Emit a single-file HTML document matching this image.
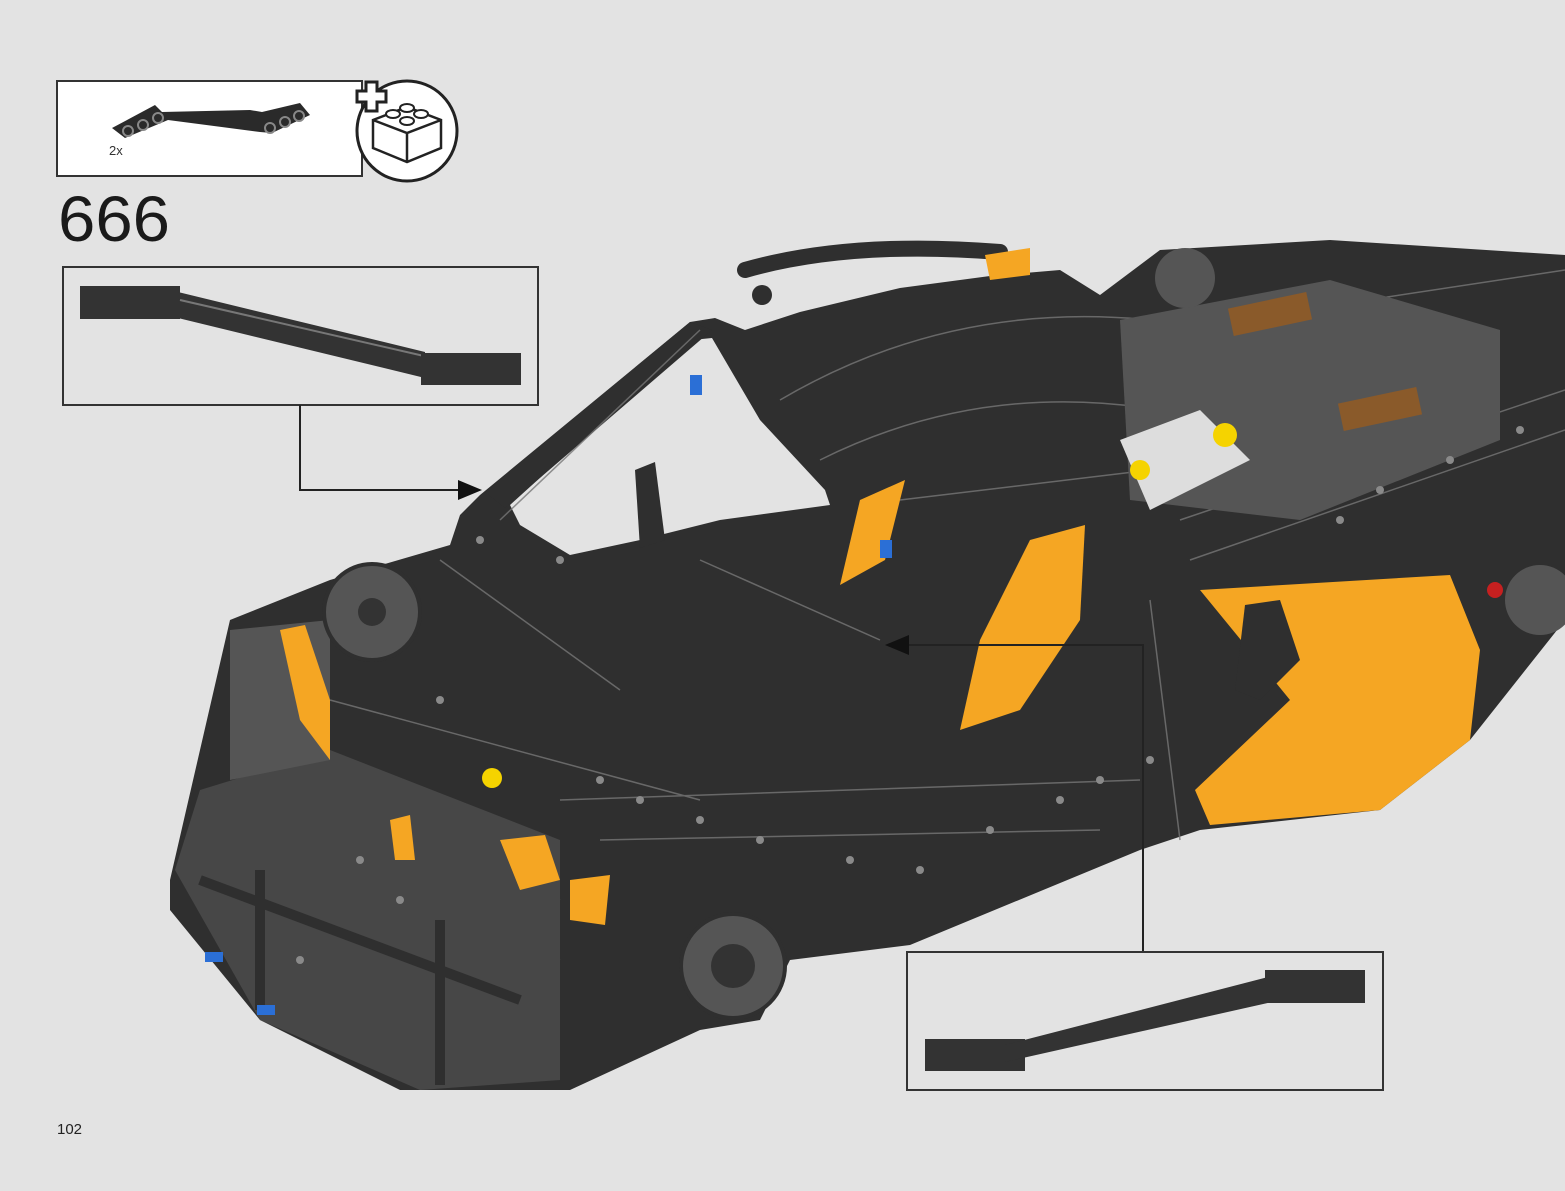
<!DOCTYPE html>
<html><head><meta charset="utf-8"><style>
html,body{margin:0;padding:0;background:#e3e3e3;}
body{width:1565px;height:1191px;position:relative;overflow:hidden;font-family:"Liberation Sans",sans-serif;}
svg{position:absolute;left:0;top:0;}
</style></head><body>
<svg width="1565" height="1191" viewBox="0 0 1565 1191" xmlns="http://www.w3.org/2000/svg">
<rect width="1565" height="1191" fill="#e3e3e3"/>
<!-- parts box -->
<rect x="57" y="81" width="305" height="95" fill="#fff" stroke="#333" stroke-width="2"/>
<g>
<path d="M112,128 L155,105 L162,112 L250,110 L262,112 L300,103 L310,115 L272,133 L260,132 L168,120 L125,138 Z" fill="#2a2a2a"/>
<circle cx="128" cy="131" r="5" fill="#2a2a2a" stroke="#888" stroke-width="2"/>
<circle cx="143" cy="125" r="5" fill="#2a2a2a" stroke="#888" stroke-width="2"/>
<circle cx="158" cy="118" r="5" fill="#2a2a2a" stroke="#888" stroke-width="2"/>
<circle cx="270" cy="128" r="5" fill="#2a2a2a" stroke="#888" stroke-width="2"/>
<circle cx="285" cy="122" r="5" fill="#2a2a2a" stroke="#888" stroke-width="2"/>
<circle cx="299" cy="116" r="5" fill="#2a2a2a" stroke="#888" stroke-width="2"/>
</g>
<text x="109" y="155" font-size="13" fill="#333">2x</text>
<circle cx="407" cy="131" r="50" fill="#fff" stroke="#222" stroke-width="3"/>
<path d="M366,82 h11 v9 h9 v11 h-9 v9 h-11 v-9 h-9 v-11 h9 z" fill="#fff" stroke="#222" stroke-width="3"/>
<path d="M373,120 L407,107 L441,120 L441,148 L407,162 L373,148 Z M373,120 L407,133 L441,120 M407,133 V162" fill="#fff" stroke="#222" stroke-width="2.5"/>
<ellipse cx="407" cy="108" rx="7" ry="4" fill="#fff" stroke="#222" stroke-width="2"/>
<ellipse cx="393" cy="114" rx="7" ry="4" fill="#fff" stroke="#222" stroke-width="2"/>
<ellipse cx="421" cy="114" rx="7" ry="4" fill="#fff" stroke="#222" stroke-width="2"/>
<ellipse cx="407" cy="121" rx="7" ry="4" fill="#fff" stroke="#222" stroke-width="2"/>
<text x="58" y="241" font-size="64" fill="#1a1a1a" textLength="112" lengthAdjust="spacingAndGlyphs">666</text>
<!-- callout 1 -->
<rect x="63" y="267" width="475" height="138" fill="#e3e3e3" stroke="#333" stroke-width="2"/>
<rect x="80" y="286" width="100" height="33" fill="#333"/>
<polygon points="178,292 425,352 425,378 178,318" fill="#333"/>
<line x1="180" y1="300" x2="424" y2="356" stroke="#777" stroke-width="2"/>
<rect x="421" y="353" width="100" height="32" fill="#333"/>
<path d="M300,405 V490 H462" fill="none" stroke="#222" stroke-width="2"/>
<polygon points="482,490 458,480 458,500" fill="#111"/>
<!-- car body -->
<g>
<polygon points="170,880 230,620 330,580 450,545 460,515 480,495 690,322 715,318 745,330 800,312 900,288 990,276 1060,270 1100,295 1140,265 1160,250 1330,240 1565,255 1565,620 1470,740 1380,810 1200,830 1140,850 910,945 790,960 760,1020 700,1030 570,1090 400,1090 260,1020 170,910" fill="#2f2f2f"/>
<!-- windshield gap -->
<polygon points="510,505 692,340 712,338 760,420 825,490 830,505 720,520 640,540 570,555 520,525" fill="#e3e3e3"/>
<!-- A pillar -->
<polygon points="485,492 690,322 712,330 505,508" fill="#2f2f2f"/>
<!-- B post -->
<polygon points="635,470 655,462 665,540 640,548" fill="#2f2f2f"/>
<!-- top arc -->
<path d="M745,270 Q850,240 1000,252" fill="none" stroke="#2f2f2f" stroke-width="16" stroke-linecap="round"/>
<circle cx="762" cy="295" r="10" fill="#2f2f2f"/>
<!-- beam lines texture -->
<g stroke="#777" stroke-width="1.5" fill="none" opacity="0.8">
<path d="M500,520 L700,330"/><path d="M780,400 Q950,300 1150,320"/><path d="M820,460 Q980,380 1160,410"/>
<path d="M200,860 L560,960"/><path d="M230,800 L560,900"/><path d="M330,700 L700,800"/>
<path d="M560,800 L1140,780"/><path d="M600,840 L1100,830"/><path d="M900,500 L1150,470"/>
<path d="M1180,520 L1565,390"/><path d="M1190,560 L1565,430"/><path d="M1170,330 L1565,270"/>
<path d="M440,560 L620,690"/><path d="M700,560 L880,640"/><path d="M1150,600 L1180,840"/>
</g>
<!-- engine area lighter -->
<polygon points="1120,320 1330,280 1500,330 1500,440 1300,520 1130,500" fill="#555"/>
<rect x="1230" y="300" width="80" height="28" fill="#8a5a2a" transform="rotate(-12 1270 314)"/>
<rect x="1340" y="395" width="80" height="28" fill="#8a5a2a" transform="rotate(-12 1380 409)"/>
<polygon points="1120,440 1200,410 1250,460 1150,510" fill="#ddd"/>
<circle cx="1225" cy="435" r="12" fill="#f5d300"/><circle cx="1140" cy="470" r="10" fill="#f5d300"/>
<!-- gray chassis lower left -->
<polygon points="175,870 200,790 330,750 560,840 560,1080 420,1090 260,1020" fill="#474747"/>
<polygon points="230,630 330,620 330,760 230,780" fill="#555"/>
<g stroke="#2f2f2f" stroke-width="10" fill="none">
<path d="M200,880 L520,1000"/><path d="M260,1010 L260,870"/><path d="M440,1085 L440,920"/>
</g>
<!-- orange pieces -->
<polygon points="1200,590 1450,575 1480,650 1470,740 1380,810 1210,825 1195,790 1290,700" fill="#f5a623"/>
<polygon points="1245,605 1280,600 1300,660 1260,700 1235,690" fill="#2f2f2f"/>
<polygon points="1030,540 1085,525 1080,620 1020,710 960,730 980,640" fill="#f5a623"/>
<polygon points="860,500 905,480 885,560 840,585" fill="#f5a623"/>
<polygon points="280,630 305,625 330,700 330,760 300,720" fill="#f5a623"/>
<polygon points="500,840 545,835 560,880 520,890" fill="#f5a623"/>
<polygon points="985,255 1030,248 1030,275 990,280" fill="#f5a623"/>
<polygon points="570,880 610,875 605,925 570,920" fill="#f5a623"/>
<polygon points="390,820 410,815 415,860 395,860" fill="#f5a623"/>
<!-- wheels -->
<circle cx="372" cy="612" r="48" fill="#555" stroke="#2f2f2f" stroke-width="4"/>
<circle cx="372" cy="612" r="14" fill="#333"/>
<circle cx="733" cy="966" r="52" fill="#555" stroke="#2f2f2f" stroke-width="4"/>
<circle cx="733" cy="966" r="22" fill="#333"/>
<circle cx="1540" cy="600" r="35" fill="#555"/>
<circle cx="1185" cy="278" r="30" fill="#555"/>
<!-- small colour details -->
<rect x="690" y="375" width="12" height="20" fill="#2b6fd6"/>
<rect x="880" y="540" width="12" height="18" fill="#2b6fd6"/>
<rect x="205" y="952" width="18" height="10" fill="#2b6fd6"/>
<rect x="257" y="1005" width="18" height="10" fill="#2b6fd6"/>
<circle cx="492" cy="778" r="10" fill="#f5d300"/>
<circle cx="1495" cy="590" r="8" fill="#c62020"/>
<!-- holes pattern hint -->
<g fill="#8a8a8a">
<circle cx="600" cy="780" r="4"/><circle cx="640" cy="800" r="4"/><circle cx="700" cy="820" r="4"/><circle cx="760" cy="840" r="4"/>
<circle cx="850" cy="860" r="4"/><circle cx="920" cy="870" r="4"/><circle cx="990" cy="830" r="4"/><circle cx="1060" cy="800" r="4"/>
<circle cx="1100" cy="780" r="4"/><circle cx="1150" cy="760" r="4"/><circle cx="480" cy="540" r="4"/><circle cx="560" cy="560" r="4"/>
<circle cx="440" cy="700" r="4"/><circle cx="360" cy="860" r="4"/><circle cx="400" cy="900" r="4"/><circle cx="300" cy="960" r="4"/>
<circle cx="1380" cy="490" r="4"/><circle cx="1450" cy="460" r="4"/><circle cx="1520" cy="430" r="4"/><circle cx="1340" cy="520" r="4"/>
</g>
</g>
<!-- connector 2 -->
<path d="M1143,952 V645 H905" fill="none" stroke="#222" stroke-width="2"/>
<polygon points="885,645 909,635 909,655" fill="#111"/>
<!-- callout 2 -->
<rect x="907" y="952" width="476" height="138" fill="#e3e3e3" stroke="#333" stroke-width="2"/>
<rect x="925" y="1039" width="100" height="32" fill="#333"/>
<polygon points="1005,1045 1272,976 1272,1002 1005,1062" fill="#333"/>
<rect x="1265" y="970" width="100" height="33" fill="#333"/>
<text x="57" y="1134" font-size="15" fill="#222">102</text>
</svg>
</body></html>
